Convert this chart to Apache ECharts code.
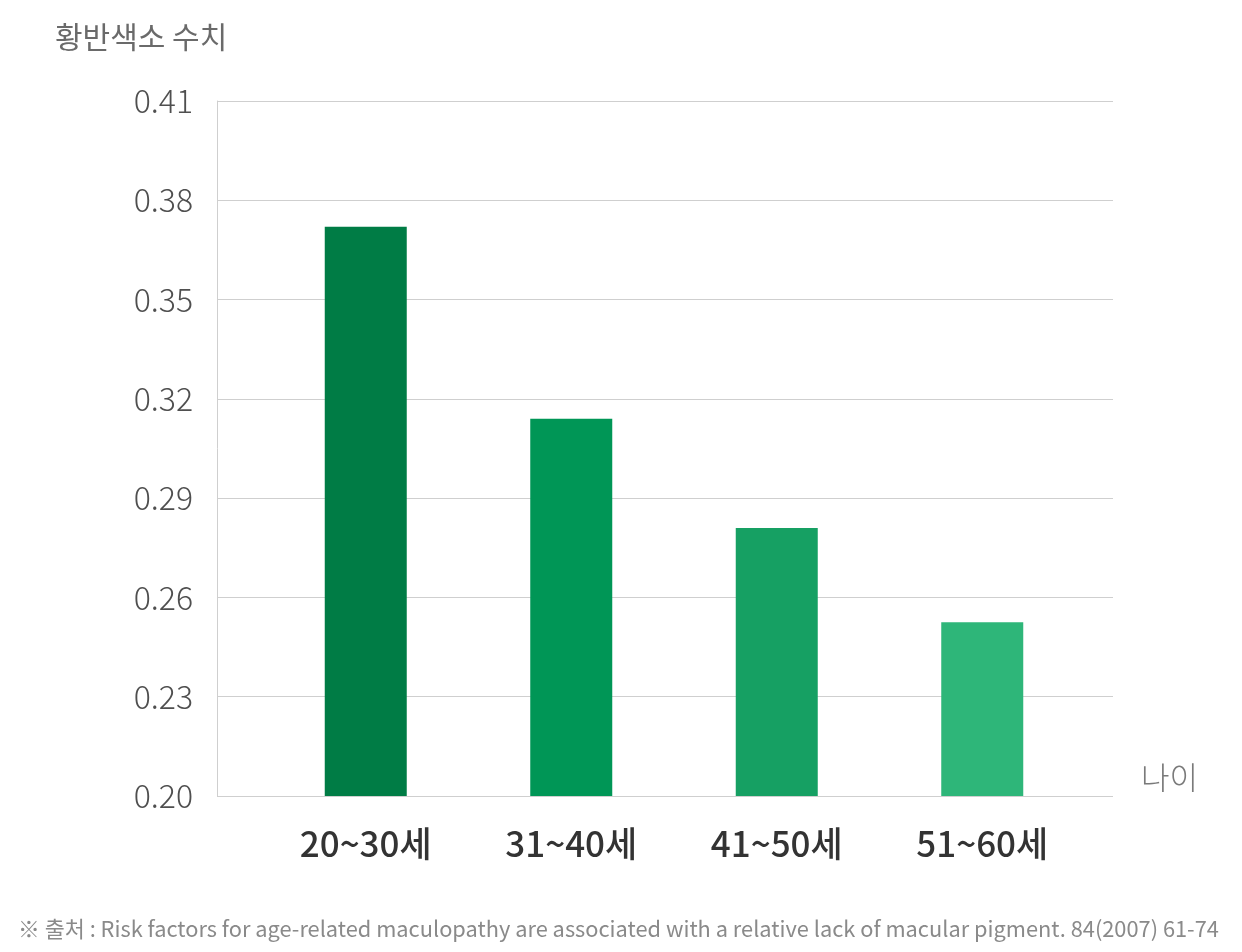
<!DOCTYPE html>
<html><head><meta charset="utf-8">
<script src="https://cdn.jsdelivr.net/npm/echarts@6/dist/echarts.min.js"></script>
<style>html,body{margin:0;padding:0;background:#fff}#c{width:1242px;height:952px}</style>
</head><body><div id="c"></div>
<script>
const categories = ['20~30세', '31~40세', '41~50세', '51~60세'];
const values = [0.372, 0.314, 0.281, 0.2525];
const barColors = ['#007c45', '#009656', '#16a063', '#2eb679'];
const yTickLabels = ['0.20', '0.23', '0.26', '0.29', '0.32', '0.35', '0.38', '0.41'];
const yBase = 0.20, yStep = 0.03;
const FONT = '"Noto Sans CJK KR", "Noto Sans", sans-serif';

// plot in units of tick steps above the base so ticks start exactly at 0.20
const toUnits = v => (v - yBase) / yStep;
const yMaxUnits = yTickLabels.length - 1;

const chart = echarts.init(document.getElementById('c'), null, {renderer: 'canvas'});
chart.setOption({
  backgroundColor: '#fff',
  animation: false,
  title: [
    {text: '황반색소 수치', left: 50, top: 17, textStyle: {fontFamily: FONT, fontSize: 30, fontWeight: 'normal', color: '#6a6a6a'}},
    {text: '나이', left: 1136, top: 757, textStyle: {fontFamily: FONT, fontSize: 31, fontWeight: 300, color: '#7a7a7a'}},
    {text: '※ 출처 : Risk factors for age-related maculopathy are associated with a relative lack of macular pigment. 84(2007) 61-74',
     left: 13, top: 913, textStyle: {fontFamily: FONT, fontSize: 21.8, fontWeight: 'normal', color: '#8a8a8a'}}
  ],
  grid: [
    {left: 217, right: 129, top: 101, bottom: 156},
    {left: 263, right: 157, top: 101, bottom: 156}
  ],
  xAxis: [
    {type: 'category', gridIndex: 0, data: categories, show: false},
    {type: 'category', gridIndex: 1, data: categories,
     axisLine: {show: false}, axisTick: {show: false},
     axisLabel: {margin: 30, fontFamily: FONT, fontSize: 35, fontWeight: 500, color: '#333'}}
  ],
  yAxis: [
    {type: 'value', gridIndex: 0, min: 0, max: yMaxUnits, interval: 1,
     axisLine: {show: true, lineStyle: {color: '#cfcfcf', width: 1}},
     axisTick: {show: false},
     splitLine: {lineStyle: {color: '#cfcfcf', width: 1}},
     axisLabel: {margin: 24, fontFamily: FONT, fontSize: 32, fontWeight: 300, color: '#4f4f4f',
                 formatter: v => yTickLabels[Math.round(v)] || ''}},
    {type: 'value', gridIndex: 1, min: 0, max: yMaxUnits, interval: 1, show: false, splitLine: {show: false}}
  ],
  series: [{
    type: 'bar', xAxisIndex: 1, yAxisIndex: 1, barWidth: 82,
    data: values.map((v, i) => ({value: toUnits(v), itemStyle: {color: barColors[i]}}))
  }]
});
</script></body></html>
